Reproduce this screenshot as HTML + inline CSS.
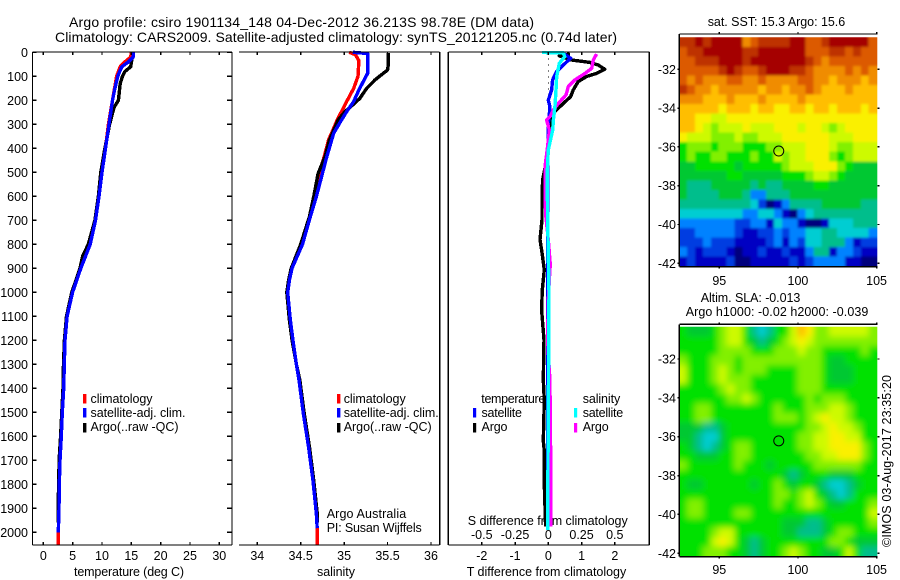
<!DOCTYPE html>
<html>
<head>
<meta charset="utf-8">
<title>Argo profile</title>
<style>
html,body{margin:0;padding:0;background:#fff;}
svg{display:block;}
text{font-family:"Liberation Sans",sans-serif;font-size:12.5px;fill:#000;}
.t{font-size:14px;}
.ln{fill:none;stroke-width:3.4;stroke-linejoin:round;shape-rendering:crispEdges;}
.ax{stroke:#000;stroke-width:1.4;shape-rendering:crispEdges;fill:none;}
</style>
</head>
<body>
<svg id="chart" width="900" height="580" viewBox="0 0 900 580" xmlns="http://www.w3.org/2000/svg">
<rect x="0" y="0" width="900" height="580" fill="#fff"/>
<text class="t" x="69" y="27" textLength="465" lengthAdjust="spacing">Argo profile: csiro 1901134_148 04-Dec-2012 36.213S 98.78E (DM data)</text>
<text class="t" x="55" y="42" textLength="562" lengthAdjust="spacing">Climatology: CARS2009. Satellite-adjusted climatology: synTS_20121205.nc (0.74d later)</text>

<text x="74" y="576" textLength="110" lengthAdjust="spacing">temperature (deg C)</text>
<text x="317" y="576" textLength="38" lengthAdjust="spacing">salinity</text>
<text x="466.7" y="576" textLength="159.5" lengthAdjust="spacing">T difference from climatology</text>
<text x="467.7" y="525" textLength="160" lengthAdjust="spacing">S difference from climatology</text>

<g id="layer-series"></g>
<g id="layer-axes"></g>

<g>
<rect x="83" y="394" width="3.4" height="9.5" fill="#f00"/>
<rect x="83" y="408" width="3.4" height="9.5" fill="#00f"/>
<rect x="83" y="423" width="3.4" height="9.5" fill="#000"/>
<text x="90.5" y="403" textLength="62" lengthAdjust="spacing">climatology</text>
<text x="90.5" y="417" textLength="95" lengthAdjust="spacing">satellite-adj. clim.</text>
<text x="90.5" y="431" textLength="88" lengthAdjust="spacing">Argo(..raw -QC)</text>
</g>
<g>
<rect x="337" y="394" width="3.4" height="9.5" fill="#f00"/>
<rect x="337" y="408" width="3.4" height="9.5" fill="#00f"/>
<rect x="337" y="423" width="3.4" height="9.5" fill="#000"/>
<text x="343.7" y="403" textLength="62" lengthAdjust="spacing">climatology</text>
<text x="343.7" y="417" textLength="95" lengthAdjust="spacing">satellite-adj. clim.</text>
<text x="343.7" y="431" textLength="88" lengthAdjust="spacing">Argo(..raw -QC)</text>
<text x="326.7" y="518" textLength="79.5" lengthAdjust="spacing">Argo Australia</text>
<text x="326.7" y="532" textLength="95" lengthAdjust="spacing">PI: Susan Wijffels</text>
</g>
<g>
<text x="481.3" y="403" textLength="64" lengthAdjust="spacing">temperature</text>
<rect x="473" y="408" width="3.2" height="9.5" fill="#00f"/>
<text x="481.5" y="417" textLength="40.5" lengthAdjust="spacing">satellite</text>
<rect x="473" y="423" width="3.2" height="9.5" fill="#000"/>
<text x="481.5" y="431" textLength="26" lengthAdjust="spacing">Argo</text>
<text x="582.7" y="403" textLength="37.5" lengthAdjust="spacing">salinity</text>
<rect x="574" y="408" width="3.2" height="9.5" fill="#0ff"/>
<text x="582.7" y="417" textLength="40.5" lengthAdjust="spacing">satellite</text>
<rect x="574" y="423" width="3.2" height="9.5" fill="#f0f"/>
<text x="582.7" y="431" textLength="26" lengthAdjust="spacing">Argo</text>
</g>

<defs>
<filter id="sstBlur" x="-5%" y="-5%" width="110%" height="110%"><feGaussianBlur stdDeviation="1.4"/></filter>
<filter id="slaBlur" x="-5%" y="-5%" width="110%" height="110%"><feGaussianBlur stdDeviation="3.2"/></filter>
<clipPath id="sstClip"><rect x="679.3" y="37.3" width="198" height="229.4"/></clipPath>
<clipPath id="slaClip"><rect x="679.3" y="326.7" width="198" height="230"/></clipPath>
</defs>
<g clip-path="url(#sstClip)"><g id="layer-sst" filter="url(#sstBlur)"></g></g>
<g clip-path="url(#slaClip)"><g id="layer-sla" filter="url(#slaBlur)"></g></g>
<g id="layer-map-axes"></g>

<text x="707.7" y="26" textLength="137.5" lengthAdjust="spacing">sat. SST: 15.3 Argo: 15.6</text>
<text x="700.7" y="302" textLength="99.6" lengthAdjust="spacing">Altim. SLA: -0.013</text>
<text x="685.7" y="316" textLength="182.6" lengthAdjust="spacing">Argo h1000: -0.02 h2000: -0.039</text>
<text transform="translate(891,547) rotate(-90)" x="0" y="0" textLength="172" lengthAdjust="spacing">©IMOS 03-Aug-2017 23:35:20</text>
</svg>

<script>
// ---------- profile data ----------
const depthTicks = [0,100,200,300,400,500,600,700,800,900,1000,1100,1200,1300,1400,1500,1600,1700,1800,1900,2000];
const tempTicks = [0,5,10,15,20,25,30];
const salTicks = [34,34.5,35,35.5,36];
const salTickLabels = ['34','34.5','35','35.5','36'];
const tDiffTicks = [-2,-1,0,1,2];
const sDiffTickLabels = ['-0.5','-0.25','0','0.25','0.5'];

const tempClimDepth = [0,20,40,60,100,200,300,400,500,600,700,800,900,1000,1100,1200,1300,1400,1500,1600,1700,1800,1900,2000,2055];
const tempClimValues = [15.0,14.9,13.9,13.1,12.5,11.8,11.1,10.6,10.0,9.5,8.9,8.0,6.4,5.0,4.05,3.7,3.58,3.48,3.24,3.07,2.85,2.73,2.68,2.56,2.56];
const tempSatDepth = [0,20,40,60,80,100,150,200,300,400,500,600,700,800,900,1000,1100,1200,1300,1400,1500,1600,1700,1800,1900,2000];
const tempSatValues = [15.3,15.3,14.5,13.4,13.0,12.7,12.2,11.8,11.2,10.6,10.0,9.5,8.9,8.0,6.4,5.0,4.05,3.7,3.58,3.48,3.24,3.07,2.85,2.73,2.68,2.56];
const tempArgoDepth = [3,30,60,80,100,130,200,230,300,400,500,600,700,800,850,900,1000,1100,1200,1300,1400,1500,1600,1700,1800,1900,1960];
const tempArgoValues = [15.1,15.1,14.9,13.9,13.5,13.1,12.8,12.05,11.3,10.5,9.8,9.4,8.8,7.67,6.7,6.25,4.85,3.95,3.6,3.45,3.35,3.15,2.95,2.7,2.62,2.5,2.5];

const salClimDepth = [0,10,35,100,150,205,247,282,366,435,505,602,685,800,900,950,1000,1115,1198,1300,1365,1504,1643,1782,1920,1983,2055];
const salClimValues = [35.06,35.13,35.17,35.16,35.11,35.03,34.97,34.92,34.82,34.77,34.71,34.66,34.61,34.52,34.4,34.37,34.35,34.38,34.41,34.45,34.48,34.53,34.59,34.64,34.68,34.69,34.69];
const salSatDepth = [0,5,88,108,157,205,247,282,337,435,532,602,685,800,900,950,1000,1115,1198,1300,1365,1504,1643,1782,1920,1983];
const salSatValues = [35.1,35.27,35.27,35.24,35.17,35.11,35.03,34.97,34.88,34.8,34.73,34.68,34.61,34.52,34.4,34.37,34.35,34.38,34.41,34.45,34.48,34.53,34.59,34.64,34.68,34.69];
const salArgoDepth = [3,50,74,88,115,150,192,219,247,282,366,435,505,602,685,800,900,950,1000,1115,1198,1300,1365,1504,1643,1782,1920,1960];
const salArgoValues = [35.51,35.51,35.5,35.45,35.355,35.26,35.18,35.1,35.01,34.93,34.83,34.78,34.7,34.65,34.6,34.5,34.39,34.36,34.34,34.37,34.4,34.45,34.49,34.54,34.6,34.65,34.69,34.69];

const diffTArgoDepth = [7,15,32,42,53,71,88,101,122,157,185,213,240,261,296,365,421,476,532,615,698,781,823,906,990,1073,1198,1365,1450,1620,1660,1800,1975];
const diffTArgoValues = [0.65,0.33,0.7,1.25,1.5,1.7,1.45,1.15,0.9,0.75,0.67,0.45,0.25,0.1,0.05,0,-0.03,-0.09,-0.17,-0.19,-0.19,-0.25,-0.2,-0.12,-0.18,-0.2,-0.13,-0.15,-0.12,-0.15,-0.12,-0.12,-0.08];
const diffTSatDepth = [4,25,53,81,115,157,199,227,300,600,1000,1400,1975];
const diffTSatValues = [0.45,0.67,0.45,0.25,0.13,0.1,0,0.05,0.0,-0.02,-0.02,-0.02,-0.02];
const diffSSatDepth = [1,2,18,46,101,157,227,282,324,407,504,685,1000,1500,1990];
const diffSSatValues = [-0.048,0.113,0.123,0.083,0.063,0.058,0.05,0.038,0.033,0,-0.008,-0.005,0.005,0,-0.005];
const diffSArgoDepth = [7,32,67,88,115,143,178,213,240,268,282,324,407,476,615,685,781,885,906,1030,1198,1365,1700,1975];
const diffSArgoValues = [0.363,0.338,0.326,0.276,0.2,0.15,0.133,0.075,0.038,0.013,-0.013,0.008,-0.008,-0.025,-0.025,-0.018,0,0.015,0.012,0,-0.005,0.012,0.018,0.018];

// ---------- map data (colour-scale level per cell, 0 = coldest/lowest, 15 = warmest/highest) ----------
const mapLonTicks = [95,100,105];
const mapLatTicks = [-32,-34,-36,-38,-40,-42];
const argoLon = 98.78;
const argoLat = -36.213;
const sstValues = [
[14,14,15,14,15,15,15,15,12,13,14,14,14,14,15,15,13,13,14,15,15,15,15,15,13],
[13,14,14,15,15,15,15,15,14,14,15,15,15,15,15,15,13,13,13,14,14,13,14,13,13],
[13,13,14,14,14,15,15,15,14,15,15,15,15,15,15,15,14,13,12,13,13,13,13,13,13],
[13,13,13,13,13,14,15,14,13,13,14,15,15,15,14,14,13,12,12,12,12,13,12,13,12],
[13,12,13,12,12,12,13,13,12,12,13,12,12,12,12,13,13,12,12,11,12,12,12,11,12],
[14,13,12,12,11,12,12,12,12,12,11,12,12,11,12,12,13,12,11,11,11,12,11,11,11],
[12,12,12,11,11,11,12,11,11,11,12,11,11,11,11,12,11,11,11,11,11,11,11,11,11],
[11,11,11,11,11,10,11,11,11,10,11,11,10,10,11,11,10,11,11,10,11,11,11,10,11],
[11,11,10,10,9,9,10,10,10,10,10,10,10,10,10,10,10,10,10,10,10,10,10,10,10],
[11,11,10,9,8,9,9,9,10,9,9,9,10,10,10,9,10,10,9,8,9,10,10,10,10],
[10,9,9,9,8,8,8,9,8,8,9,9,9,10,10,10,10,10,10,9,9,9,10,10,10],
[7,8,8,8,7,8,8,8,7,7,7,8,8,9,9,9,10,10,10,9,8,8,9,9,9],
[7,8,7,7,8,8,7,7,7,8,7,7,9,8,9,9,10,10,10,8,7,8,9,9,9],
[6,6,7,7,7,7,7,6,7,7,7,7,7,8,9,9,9,10,10,10,8,7,6,6,6],
[6,6,6,6,6,6,7,7,6,6,6,6,6,7,7,7,8,9,9,8,7,6,6,6,6],
[6,5,5,5,6,6,6,6,6,5,6,5,5,6,6,6,6,7,7,6,6,6,6,6,6],
[6,5,5,5,5,6,6,6,5,3,3,5,5,5,6,6,6,6,6,6,6,6,6,6,6],
[5,5,5,5,5,5,5,5,5,4,2,0,1,3,5,5,5,5,6,6,6,6,6,5,5],
[4,4,4,4,4,4,4,4,3,3,4,4,3,1,0,3,4,5,5,5,5,5,5,5,5],
[3,3,3,3,3,3,3,2,2,3,3,1,4,3,3,1,0,0,1,4,4,4,5,5,5],
[2,2,3,3,3,3,3,2,1,1,2,2,3,2,3,3,4,4,5,5,4,4,4,4,3],
[2,2,2,3,2,2,2,1,1,1,1,2,3,1,3,2,4,4,5,5,5,3,1,2,2],
[3,2,1,2,2,2,1,0,1,1,2,1,1,2,1,1,3,5,5,1,3,3,2,1,1],
[1,2,1,1,1,1,2,0,0,1,1,1,1,1,2,1,2,3,3,3,3,1,1,0,0]
];
const slaValues = [
[7,6,6,6,7,8,9,9,7,5,4,5,7,7,9,11,10,8,8,9,9,9,9,9,8],
[7,7,7,7,7,8,9,9,7,6,5,6,7,8,9,10,9,8,8,8,8,8,8,8,8],
[7,7,7,7,7,8,8,8,8,7,7,7,8,8,8,9,8,8,7,7,7,7,7,8,7],
[8,7,7,7,8,8,8,7,8,8,8,8,8,8,8,8,8,8,7,6,6,7,7,7,7],
[9,7,7,7,8,9,8,7,8,8,8,7,7,7,7,8,8,8,7,6,6,6,7,7,7],
[9,7,7,7,8,9,8,8,8,7,7,7,7,7,7,8,8,8,7,6,6,6,7,7,7],
[7,7,7,7,7,8,9,8,8,7,7,7,7,7,7,8,8,8,7,7,7,7,7,7,7],
[7,7,7,7,7,7,8,8,9,8,7,7,7,7,7,7,8,7,8,8,8,7,7,7,7],
[7,7,8,8,7,7,7,7,7,7,7,7,8,7,7,7,8,8,8,9,9,8,7,7,7],
[7,7,8,8,7,7,7,7,7,7,7,7,8,8,8,7,8,9,10,9,9,8,7,7,7],
[6,6,6,5,5,6,7,7,7,7,7,7,7,7,7,7,8,8,9,10,9,9,8,7,7],
[6,6,5,4,4,6,7,7,7,7,7,7,7,7,7,8,8,9,9,10,10,9,9,7,7],
[7,6,5,4,5,6,7,8,8,7,7,7,7,7,7,8,8,9,9,10,10,10,10,8,7],
[7,7,6,6,6,7,7,8,8,7,7,7,7,7,7,7,8,8,9,9,10,10,10,8,7],
[8,7,7,7,7,7,7,8,7,7,7,6,7,7,7,7,7,8,8,8,8,8,8,7,7],
[7,7,7,7,7,7,7,7,7,7,7,7,7,6,5,6,7,7,7,6,6,6,7,7,7],
[7,6,6,7,7,7,7,7,7,6,7,7,8,7,6,7,7,6,5,4,4,5,6,7,7],
[7,7,7,7,7,7,7,7,7,7,7,7,8,8,7,8,9,7,6,5,4,5,7,7,7],
[7,8,8,7,7,7,7,7,7,7,7,7,8,7,7,8,9,8,7,6,6,7,7,7,8],
[7,8,8,7,7,7,7,8,8,7,7,7,7,7,7,7,7,7,7,7,7,7,7,7,9],
[7,7,7,7,7,7,7,7,7,7,7,7,7,6,6,6,5,5,6,7,7,7,7,7,8],
[7,7,7,7,8,9,9,7,7,7,7,7,7,6,6,5,5,5,6,7,8,8,7,7,7],
[7,7,7,7,9,10,9,7,6,5,6,7,7,7,7,7,7,7,7,8,8,7,6,6,6],
[7,7,7,8,8,8,7,7,6,5,6,7,7,8,9,8,7,7,6,6,7,9,7,5,5]
];

// ---------- axis functions ----------
const NS = 'http://www.w3.org/2000/svg';
const yDepth = d => 52.3 + d * 0.24;
const xTemp = t => 43.3 + t * 5.867;
const xSal = s => 257.3 + (s - 34) * 86.83;
const xTDiff = t => 548.3 + t * 33.25;
const xSDiff = s => 548.3 + s * 133;
const xLon = lon => 719.3 + (lon - 95) * 15.73;
const ySstLat = lat => 69.3 + (-32 - lat) * 19.4;
const ySlaLat = lat => 359 + (-32 - lat) * 19.43;
const COL_LON0 = 92.45, COL_DLON = 0.502, ROW_LAT0 = -30.35, ROW_DLAT = 0.4915;

const seriesLayer = document.getElementById('layer-series');
const axesLayer = document.getElementById('layer-axes');
const mapAxesLayer = document.getElementById('layer-map-axes');
const sstLayer = document.getElementById('layer-sst');
const slaLayer = document.getElementById('layer-sla');

function make(tag, parent, attrs) {
  const node = document.createElementNS(NS, tag);
  for (const k in attrs) node.setAttribute(k, attrs[k]);
  parent.appendChild(node);
  return node;
}
function seg(parent, x1, y1, x2, y2) {
  return make('line', parent, {x1: x1, y1: y1, x2: x2, y2: y2, class: 'ax'});
}
function label(parent, x, y, str, anchor) {
  const node = make('text', parent, {x: x, y: y, 'text-anchor': anchor});
  node.textContent = str;
  return node;
}
function profile(depths, values, xFn, color) {
  const pts = depths.map((d, i) => xFn(values[i]).toFixed(1) + ',' + yDepth(d).toFixed(1)).join(' ');
  return make('polyline', seriesLayer, {points: pts, class: 'ln', stroke: color});
}

// ---------- series ----------
let el;
el = profile(tempArgoDepth, tempArgoValues, xTemp, '#000');


el = profile(tempClimDepth, tempClimValues, xTemp, '#f00');


el = profile(tempSatDepth, tempSatValues, xTemp, '#00f');



el = profile(salClimDepth, salClimValues, xSal, '#f00');


el = profile(salArgoDepth, salArgoValues, xSal, '#000');


el = profile(salSatDepth, salSatValues, xSal, '#00f');



el = make('line', seriesLayer, {x1: xTDiff(0), y1: yDepth(0), x2: xTDiff(0), y2: yDepth(270), stroke: '#000', 'stroke-width': 1, 'stroke-dasharray': '1 5', 'shape-rendering': 'crispEdges'});


el = profile(diffTArgoDepth, diffTArgoValues, xTDiff, '#000');


el = profile(diffTSatDepth, diffTSatValues, xTDiff, '#00f');


el = profile(diffSArgoDepth, diffSArgoValues, xSDiff, '#f0f');


el = profile(diffSSatDepth, diffSSatValues, xSDiff, '#0ff');



// ---------- profile axes ----------
const TOP = 52, BOT = 545;
function frame(x1, x2, hasLeft) {
  const g = make('g', axesLayer, {});
  seg(g, x1, TOP, x2, TOP);
  seg(g, x1, BOT, x2, BOT);
  seg(g, x2, TOP, x2, BOT);
  if (hasLeft) seg(g, x1, TOP, x1, BOT);
  return g;
}
el = frame(32.5, 232, true);


el = frame(239, 439.7, false);


el = frame(448.3, 649.3, true);



depthTicks.forEach(d => {
  const y = yDepth(d);
  seg(axesLayer, 32.5, y, 36.5, y);
  seg(axesLayer, 227, y, 232, y);
  const tl = label(axesLayer, 28, y + 4.5, String(d), 'end');
  
  
});
tempTicks.forEach(t => {
  const x = xTemp(t);
  seg(axesLayer, x, TOP, x, TOP + 3);
  seg(axesLayer, x, BOT - 3, x, BOT);
  const tl = label(axesLayer, x, 560, String(t), 'middle');
  
  
});
salTicks.forEach((s, i) => {
  const x = xSal(s);
  seg(axesLayer, x, TOP, x, TOP + 3);
  seg(axesLayer, x, BOT - 3, x, BOT);
  const tl = label(axesLayer, x, 560, salTickLabels[i], 'middle');
  
  
});
tDiffTicks.forEach((t, i) => {
  const x = xTDiff(t);
  seg(axesLayer, x, TOP, x, TOP + 3);
  seg(axesLayer, x, BOT - 3, x, BOT);
  const tl = label(axesLayer, x, 560, String(t), 'middle');
  
  
  const sl = label(axesLayer, x, 539, sDiffTickLabels[i], 'middle');
  
  
});

// ---------- heatmaps ----------
const palette = [[0,0,125],[0,0,195],[0,60,225],[0,130,255],[0,205,210],[0,190,140],[0,200,50],[0,225,0],[130,240,0],[205,250,0],[250,240,0],[255,190,0],[240,140,0],[220,90,0],[190,50,0],[165,0,0]];
function levelColor(v) {
  const c = Math.max(0, Math.min(15, v));
  const a = Math.floor(c), b = Math.min(15, a + 1), f = c - a;
  const rgb = [0, 1, 2].map(k => Math.round(palette[a][k] + (palette[b][k] - palette[a][k]) * f));
  return 'rgb(' + rgb.join(',') + ')';
}
function drawMap(layer, grid, yFn) {
  const PAD = 12;
  grid.forEach((row, r) => {
    row.forEach((v, c) => {
      let x0 = xLon(COL_LON0 + c * COL_DLON), x1 = xLon(COL_LON0 + (c + 1) * COL_DLON);
      let y0 = yFn(ROW_LAT0 - r * ROW_DLAT), y1 = yFn(ROW_LAT0 - (r + 1) * ROW_DLAT);
      if (c === 0) x0 -= PAD;
      if (c === row.length - 1) x1 += PAD;
      if (r === 0) y0 -= PAD;
      if (r === grid.length - 1) y1 += PAD;
      const cell = make('rect', layer, {x: x0.toFixed(2), y: y0.toFixed(2), width: (x1 - x0 + 0.4).toFixed(2), height: (y1 - y0 + 0.4).toFixed(2), fill: levelColor(v), 'shape-rendering': 'crispEdges'});
      
      
    });
  });
}
drawMap(sstLayer, sstValues, ySstLat);
drawMap(slaLayer, slaValues, ySlaLat);

// ---------- map axes ----------
function mapAxes(top, bottom, yFn, tickY) {
  const L = 679.3, R = 877.3;
  seg(mapAxesLayer, L, top, R, top);
  seg(mapAxesLayer, L, bottom, R, bottom);
  seg(mapAxesLayer, L, top, L, bottom);
  mapLonTicks.forEach(lon => {
    const x = xLon(lon);
    seg(mapAxesLayer, x, top - 2, x, top);
    seg(mapAxesLayer, x, bottom, x, bottom + 2);
    const tl = label(mapAxesLayer, x, tickY, String(lon), 'middle');
    
    
  });
  mapLatTicks.forEach(lat => {
    const y = yFn(lat);
    seg(mapAxesLayer, L - 2, y, L, y);
    seg(mapAxesLayer, R, y, R + 2, y);
    const tl = label(mapAxesLayer, 676, y + 4.5, String(lat), 'end');
    
    
  });
  const c = make('ellipse', mapAxesLayer, {cx: xLon(argoLon), cy: yFn(argoLat), rx: 5, ry: 5, fill: 'none', stroke: '#000', 'stroke-width': 1});
  
  
}
mapAxes(34, 266.7, ySstLat, 285);
mapAxes(324.3, 556.7, ySlaLat, 574);
</script>
</body>
</html>
